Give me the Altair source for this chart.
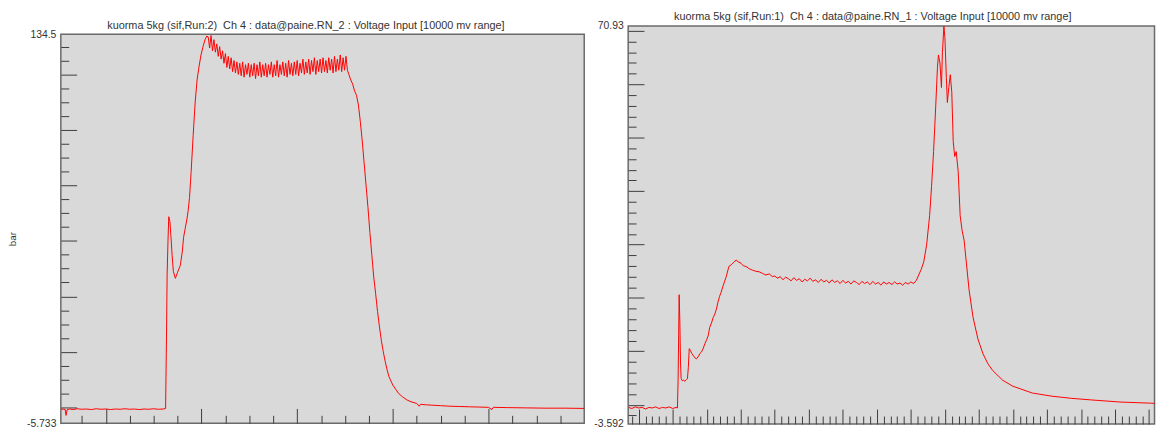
import altair as alt
import pandas as pd

FONT = "Liberation Sans"
TXT = "#333333"
TICK = "#3c3c3c"

TITLE_L = "kuorma 5kg (sif,Run:2)\u00a0 Ch 4 : data@paine.RN_2 : Voltage Input [10000 mv range]"
TITLE_R = "kuorma 5kg (sif,Run:1)\u00a0 Ch 4 : data@paine.RN_1 : Voltage Input [10000 mv range]"
Y_TITLE_L = "bar"

# ---------------- left trace (time in ms, pressure in bar) ----------------
left_t = [53, 56, 57.5, 58.5, 59.5, 62, 66, 70, 75, 80, 85, 90, 95, 100, 105, 110, 115, 120,
          125, 130, 135, 140, 145, 150, 155, 160, 162.5,
          163.4, 164.1, 165, 165.8, 167, 168, 169.3, 170.6, 172.7, 174.8, 177.9, 179.9, 181.3,
          183, 184.8, 186.1, 187.5, 189.2, 191.3, 193.4, 195.4, 197.5, 199.5, 201.6, 203.7, 205.5,
          207, 208.5, 210, 211.5, 213, 214.5, 216, 217.5, 219, 220.5, 222, 223.5, 225, 226.5,
          228, 229.5, 231, 232.5, 234, 235.5, 237, 238.5, 240, 241.5, 243, 244.5, 246, 247.5,
          249, 250.5, 252, 253.5, 255, 256.5, 258, 259.5, 261, 262.5, 264, 265.5, 267, 268.5,
          270, 271.5, 273, 274.5, 276, 277.5, 279, 280.5, 282, 283.5, 285, 286.5, 288, 289.5,
          291, 292.5, 294, 295.5, 297, 298.5, 300, 301.5, 303, 304.5, 306, 307.5, 309, 310.5,
          312, 313.5, 315, 316.5, 318, 319.5, 321, 322.5, 324, 325.5, 327, 328.5, 330, 331.5,
          333, 334.5, 336, 337.5, 339, 340.5, 342, 343.5, 345, 346.5, 348, 349.5, 351, 352.5,
          354, 356, 358, 360, 362, 364, 366, 368, 370, 372, 374, 376, 378, 380, 382, 384, 386,
          388, 390, 392, 394, 396, 398, 400, 403, 406, 410, 415, 420, 425, 427.5, 429, 435, 440,
          450, 460, 470, 480, 490, 500, 503.5, 505, 520, 540, 560, 580, 600]
left_v = [-0.6, -0.7, -0.8, -2.9, -0.9, -0.6, -0.8, -0.5, -0.7, -0.6, -0.8, -0.5, -0.7, -0.6,
          -0.8, -0.6, -0.7, -0.5, -0.7, -0.6, -0.8, -0.6, -0.7, -0.5, -0.7, -0.6, -0.4,
          25, 48, 60, 68.7, 67, 62, 54.8, 49, 46.5, 48.5, 51.2, 56, 61.3,
          64.5, 67.9, 71, 75.6, 85, 98, 110, 118, 123, 127, 130, 132.5, 133.8,
          133.5, 129.5, 134.0, 128.5, 132.5, 128.0, 131.0, 126.5, 130.0, 125.5, 128.5, 124.0,
          127.5, 122.5, 126.5, 122.0, 126.0, 121.0, 125.0, 120.5, 124.5, 120.0, 124.0, 119.5,
          124.5, 119.0, 123.5, 120.0, 124.0, 119.0, 123.5, 119.5, 124.0, 118.5, 123.5, 119.5,
          124.5, 119.0, 123.5, 119.5, 124.0, 119.0, 123.5, 120.0, 124.5, 119.0, 123.5, 119.5,
          125.0, 119.0, 123.5, 120.0, 124.5, 119.5, 124.0, 119.0, 125.0, 120.0, 124.0, 119.5,
          124.5, 120.0, 125.0, 119.5, 124.0, 120.5, 125.5, 120.0, 124.5, 120.5, 125.5, 120.0,
          125.0, 121.0, 126.0, 120.0, 125.0, 121.0, 125.5, 120.5, 126.0, 121.0, 125.0, 120.5,
          126.0, 121.5, 125.5, 120.5, 126.5, 121.0, 125.5, 121.5, 127.0, 121.0, 126.0, 121.5,
          126.5, 121.5,
          120.0, 118.0, 116.5, 114.0, 112.5, 109.0, 103.0, 96.0, 88.0, 80.0, 72.0, 63.0, 55.0,
          47.0, 41.0, 34.5, 29.0, 24.0, 20.0, 16.5, 13.5, 11.0, 9.5, 8.0, 6.5, 5.0, 3.8, 2.6,
          1.9, 1.4, 0.4, 1.1, 0.9, 0.8, 0.6, 0.4, 0.3, 0.2, 0.1, 0.0, -0.8, 0.0, -0.1, -0.2,
          -0.3, -0.3, -0.4]

# ---------------- right trace ----------------
right_t = [35, 40, 45, 50, 55, 60, 65, 70, 75, 80, 85, 90, 95, 100, 105, 107,
           108, 109.5, 110.5, 111.5, 112.4, 114, 116, 118, 120, 121.7, 123, 124.3, 126, 128,
           130.4, 132.5, 135.1, 138, 140, 142.4, 145, 147.2, 150, 152.1, 154.4, 157, 159.4, 162,
           164.2, 166.5, 168.9, 171, 173.9, 176, 178.7, 182.6, 185.9, 189, 193.2, 196, 200.4,
           204, 207.7, 212, 217.4, 222, 227, 232, 236.7, 242, 246.4,
           250, 254, 258, 262, 266, 270, 274, 278, 282, 286, 290, 294, 298, 302, 306, 310, 314,
           318, 322, 326, 330, 334, 338, 342, 346, 350, 354, 358, 362, 366, 370, 374, 378, 382,
           386, 390, 394, 398, 402, 406, 410, 414, 418, 422, 426, 430, 434, 438, 442, 446, 450,
           454,
           458, 461.5, 465, 468.8, 473.1, 477.5, 480.4, 483.3, 486.1, 489, 490.5, 492.7, 494.9,
           496.3, 498.5, 500, 502.1, 503.6, 505.7, 507.9, 510.1, 512.2, 514.4, 516.6, 519.5,
           522.4, 525.3, 528.2, 531.1, 535.5, 541.3, 548.5, 555.8, 563, 570.3, 584.8, 599.3,
           628.3, 657.3, 686.3, 715.3, 758.8, 802.3, 810]
right_v = [-0.5, -0.7, -0.4, -0.6, -0.5, -0.8, -0.5, -0.6, -0.4, -0.7, -0.5, -0.6, -0.4, -0.7,
           -0.5, -0.6,
           5, 20.6, 15.7, 8, 4.9, 4.5, 4.6, 4.4, 4.7, 4.9, 7, 10.5, 10.2, 9.6,
           9.2, 8.8, 8.6, 9.1, 9.6, 9.9, 10.6, 11.4, 12.2, 12.9, 14.5, 15.3, 16.3, 17.0,
           17.9, 19.2, 20.3, 21.0, 22.2, 23.0, 24.0, 25.9, 26.2, 26.6, 27.1, 26.8, 26.5,
           26.0, 25.9, 25.5, 25.2, 25.0, 24.9, 24.6, 24.3, 24.5, 24.0,
           24.1, 23.7, 24.0, 23.4, 23.9, 23.6, 23.2, 23.8, 23.3, 23.6, 23.0, 23.5, 23.2, 23.7,
           23.1, 23.4, 22.9, 23.5, 23.0, 23.3, 22.8, 23.4, 22.9, 23.2, 22.7, 23.3, 22.8, 23.1,
           22.6, 23.2, 22.9, 22.5, 23.1, 22.7, 23.0, 22.5, 23.1, 22.6, 22.9, 22.4, 23.0, 22.6,
           22.9, 22.5, 23.0, 22.6, 22.8, 22.4, 22.9, 22.6, 23.0, 22.7,
           23.3, 24.3, 25.3, 26.7, 29.9, 35.4, 40.9, 47.4, 54.8, 63.1, 65.5, 64.0, 59.4,
           65.9, 70.9, 68.7, 61.3, 56.6, 59.4, 61.8, 58.5, 49.3, 46.5, 47.4, 43.7,
           35.4, 32.6, 30.8, 27.1, 21.5, 16.4, 12.3, 9.6, 7.7, 6.4, 4.6, 3.5,
           2.2, 1.6, 1.2, 0.9, 0.5, 0.3, 0.25]

# ---------------- axis settings ----------------
left_x_domain = [53, 600]
left_y_domain = [-5.733, 134.5]
left_x_minor = [75, 125, 150, 175, 225, 250, 275, 325, 350, 375, 425, 450, 475, 525, 550, 575]
left_x_major = [100, 200, 300, 400, 500]
left_y_minor = [5, 10, 15, 25, 30, 35, 45, 50, 55, 65, 70, 75, 85, 90, 95, 105, 110, 115, 125, 130]
left_y_major = [0, 20, 40, 60, 80, 100, 120]

right_x_domain = [34.6, 808.0]
right_y_domain = [-3.592, 70.93]
right_x_minor = [v for v in range(40, 810, 10) if v % 50 != 0]
right_x_major = list(range(50, 810, 50))
right_y_minor = [v for v in range(-2, 71, 2) if v % 10 != 0]
right_y_major = list(range(0, 71, 10))


def tick_axis(orient, values, size):
    return alt.Axis(orient=orient, values=values, tickSize=size, offset=-size,
                    domain=False, labels=False, grid=False, title=None,
                    ticks=True, tickColor=TICK, tickWidth=1)


def panel(t, v, xdom, ydom, xminor, xmajor, yminor, ymajor, w, h, title=None, ytitle=None):
    df = pd.DataFrame({"t": t, "v": v})
    xs = alt.Scale(domain=xdom, nice=False, zero=False)
    ys = alt.Scale(domain=ydom, nice=False, zero=False)
    base = alt.Chart(df)
    minor = base.mark_line(opacity=0).encode(
        x=alt.X("t:Q", scale=xs, axis=tick_axis("bottom", xminor, 8)),
        y=alt.Y("v:Q", scale=ys, axis=tick_axis("left", yminor, 8)),
    )
    major = base.mark_line(opacity=0).encode(
        x=alt.X("t:Q", scale=xs, axis=tick_axis("bottom", xmajor, 15)),
        y=alt.Y("v:Q", scale=ys, axis=tick_axis("left", ymajor, 16)),
    )
    ax_kw = dict(orient="left", values=list(ydom), ticks=False, domain=False, grid=False,
                 labelExpr="toString(datum.value)", labelFont=FONT, labelFontSize=10.5,
                 labelColor=TXT, labelPadding=5, labelFlush=False, labelOverlap=False)
    if ytitle:
        ax_kw.update(title=ytitle, titleFont=FONT, titleFontSize=10, titleFontWeight="normal",
                     titleColor=TXT, titleX=-48.5, titleY=207, titleAngle=270,
                     titleAlign="center", titleBaseline="middle")
    else:
        ax_kw.update(title=None)
    line = base.mark_line(color="#ff0000", strokeWidth=1, clip=True).encode(
        x=alt.X("t:Q", scale=xs, axis=None),
        y=alt.Y("v:Q", scale=ys, axis=alt.Axis(**ax_kw)),
    )
    out = (alt.layer(minor, major, line)
           .resolve_axis(x="independent", y="independent")
           .properties(width=w, height=h))
    if title is not None:
        out = out.properties(title=title)
    return out


title_left = alt.TitleParams(text=TITLE_L, fontSize=11, font=FONT, color=TXT,
                             fontWeight="normal", anchor="start", dx=47, frame="group",
                             offset=-4.8)
title_right = alt.TitleParams(text=TITLE_R, fontSize=11, font=FONT, color=TXT,
                              fontWeight="normal", anchor="start", dx=46.5, frame="group",
                              offset=-1)

left = panel(left_t, left_v, left_x_domain, left_y_domain, left_x_minor, left_x_major,
             left_y_minor, left_y_major, 530, 394, ytitle=Y_TITLE_L)
right = panel(right_t, right_v, right_x_domain, right_y_domain, right_x_minor, right_x_major,
              right_y_minor, right_y_major, 533, 403, title=title_right)

# thin invisible strip that carries the left title and lowers the left plot
left_head = (alt.Chart(pd.DataFrame({"t": left_t, "v": left_v}))
             .mark_line(opacity=0)
             .encode(x=alt.X("t:Q", axis=None), y=alt.Y("v:Q", axis=None))
             .properties(width=530, height=1, title=title_left,
                         view=alt.ViewBackground(fill="transparent", stroke="transparent")))

left_col = alt.vconcat(left_head, left, spacing=7.3, bounds="flush")

chart = (alt.hconcat(left_col, right, spacing=7.5)
         .properties(padding={"left": -1.5, "top": -0.5, "right": 0, "bottom": 0})
         .configure_view(fill="#d9d9d9", stroke="#6a6a6a", strokeWidth=1.5)
         .configure_title(fontWeight="normal"))

chart.save("out.html", embed_options={"renderer": "svg", "actions": False})
